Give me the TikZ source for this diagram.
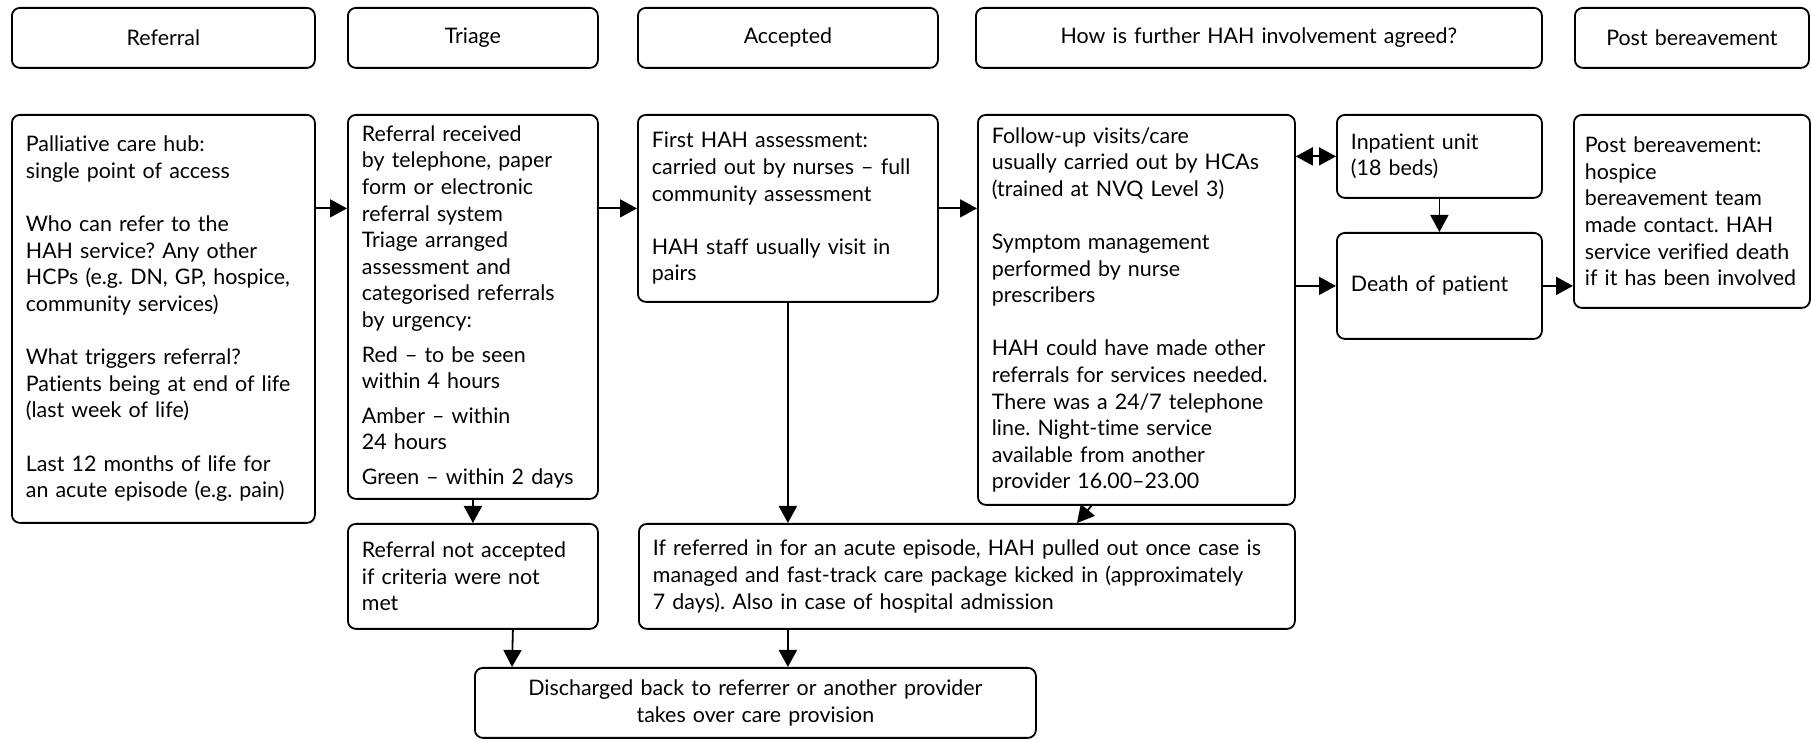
\documentclass[tikz,border=0pt]{standalone}
\usepackage{fontspec}
\setmainfont{Lato}[Ligatures=NoCommon]
\usetikzlibrary{arrows.meta,calc}
\frenchspacing
\hyphenpenalty=10000
\exhyphenpenalty=10000

\begin{document}
\begin{tikzpicture}[x=0.5pt, y=-0.5pt, font=\fontsize{10.7}{13.3}\selectfont,
  every node/.style={draw, rounded corners=4pt, line width=0.9pt, inner xsep=7pt, inner ysep=0pt, anchor=north west},
  head/.style={align=center, minimum height=30pt},
  body/.style={align=left},
  arr/.style={-{Triangle[length=8.5pt,width=9pt]}, line width=0.9pt},
  darr/.style={{Triangle[length=8.5pt,width=9pt]}-{Triangle[length=8.5pt,width=9pt]}, line width=0.9pt}]
  \useasboundingbox (0,0) rectangle (1811,742);

  % stage headings
  \node[head, text width=137.5pt] (hRef) at (11,7) {Referral};
  \node[head, text width=111pt] (hTri) at (347,7) {Triage};
  \node[head, text width=136pt] (hAcc) at (637,7) {Accepted};
  \node[head, text width=269pt] (hHow) at (975,7) {How is further HAH involvement agreed?};
  \node[head, text width=103pt] (hPost) at (1574,7) {Post bereavement};

  % main pathway
  \node[body, text width=137.5pt, minimum height=204pt] (hub) at (11,114)
    {Palliative care hub:\\ single point of access\\[\baselineskip]
     Who can refer to the\\ HAH service? Any other\\ HCPs (e.g. DN, GP, hospice,\\ community services)\\[\baselineskip]
     What triggers referral?\\ Patients being at end of life\\ (last week of life)\\[\baselineskip]
     Last 12 months of life for\\ an acute episode (e.g. pain)};
  \node[body, text width=111pt, minimum height=192pt] (recv) at (347,114)
    {Referral received\\ by telephone, paper\\ form or electronic\\ referral system\\ Triage arranged\\ assessment and\\ categorised referrals\\ by urgency:\\[4pt]
     Red -- to be seen\\ within 4 hours\\[4pt]
     Amber -- within\\ 24 hours\\[4pt]
     Green -- within 2 days};
  \node[body, text width=136pt, minimum height=93.5pt] (first) at (637,114)
    {First HAH assessment:\\ carried out by nurses -- full\\ community assessment\\[\baselineskip]
     HAH staff usually visit in\\ pairs};
  \node[body, text width=144.5pt, minimum height=195pt] (follow) at (977,114)
    {Follow-up visits/care\\ usually carried out by HCAs\\ (trained at NVQ Level 3)\\[\baselineskip]
     Symptom management\\ performed by nurse\\ prescribers\\[\baselineskip]
     HAH could have made other\\ referrals for services needed.\\ There was a 24/7 telephone\\ line. Night-time service\\ available from another\\ provider 16.00--23.00};
  \node[body, text width=88.5pt, minimum height=41.5pt] (inpat) at (1336,114) {Inpatient unit\\ (18 beds)};
  \node[body, text width=88.5pt, minimum height=53pt] (death) at (1336,232) {Death of patient};
  \node[body, text width=107pt, minimum height=96.5pt, inner xsep=5.5pt] (post) at (1573,114)
    {Post bereavement:\\ hospice\\ bereavement team\\ made contact. HAH\\ service verified death\\ if it has been involved};

  % exits
  \node[body, text width=111pt, minimum height=52.5pt] (notacc) at (347,523)
    {Referral not accepted\\ if criteria were not\\ met};
  \node[body, text width=314pt, minimum height=52.5pt] (acute) at (638,523)
    {If referred in for an acute episode, HAH pulled out once case is\\ managed and fast-track care package kicked in (approximately\\ 7 days). Also in case of hospital admission};
  \node[head, text width=266.5pt, minimum height=35pt] (disch) at (474,667)
    {Discharged back to referrer or another provider\\ takes over care provision};

  \draw[arr] (hub.east |- first) -- (recv.west |- first);
  \draw[arr] (recv.east |- first) -- (first.west);
  \draw[arr] (first.east) -- (follow.west |- first);
  \draw[darr] (follow.east |- inpat) -- (inpat.west);
  \draw[arr] (inpat.south) -- (death.north);
  \draw[arr] (follow.east |- death) -- (death.west);
  \draw[arr] (death.east) -- (post.west |- death);
  \draw[arr] (recv.south) -- (notacc.north);
  \draw[arr] (first.south) -- (first.south |- acute.north);
  \draw[arr] ($(follow.south)+(-45,0)$) -- ($(acute.north west)+(439,0)$);
  \draw[arr] ($(notacc.south)+(40,0)$) -- ($(disch.north west)+(38,0)$);
  \draw[arr] (first.south |- acute.south) -- (first.south |- disch.north);
\end{tikzpicture}
\end{document}
